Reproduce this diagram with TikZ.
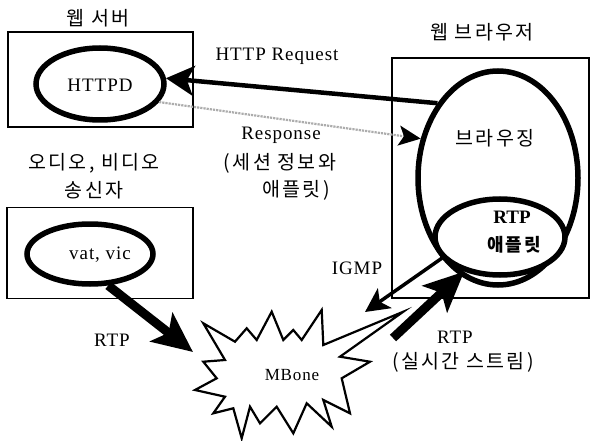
\documentclass[tikz,border=0pt]{standalone}
\usepackage{fontspec}
\setmainfont{Liberation Serif}
\newfontfamily\lat[LetterSpace=5]{Liberation Serif}
\newfontfamily\cjk[LetterSpace=12]{Noto Sans CJK KR}
\usetikzlibrary{shapes.geometric, arrows.meta}
\begin{document}
\begin{tikzpicture}[x=1pt,y=-1pt,
  box/.style={draw, line width=1.8pt, inner sep=0pt},
  oval/.style={draw, ellipse, line width=5.5pt, inner sep=0pt},
  en/.style={font=\lat\fontsize{19}{22}\selectfont, inner sep=0pt},
  enb/.style={font=\bfseries\fontsize{19}{22}\selectfont, inner sep=0pt},
  ko/.style={font=\cjk\fontsize{19.5}{22}\selectfont, inner sep=0pt},
  kob/.style={font=\cjk\bfseries\fontsize{18}{22}\selectfont, inner sep=0pt},
  fatarrow/.style={line width=9pt, -{Stealth[length=40pt,width=36pt,inset=9pt]}},
  reqarrow/.style={line width=4.5pt, -{Stealth[length=28pt,width=30pt,inset=7pt]}},
  igmparrow/.style={line width=3.5pt, -{Stealth[length=24pt,width=24pt,inset=6pt]}},
  resparrow/.style={draw=gray!65, line width=2.2pt, densely dotted, -{Stealth[length=22pt,width=20pt,inset=5pt,black]}},
  burst/.style={draw, fill=white, line width=2.2pt, line join=miter}
]
\useasboundingbox (0,0) rectangle (592,441);

% boxes
\node[box, minimum width=185pt, minimum height=95pt] (server) at (100.5,79.5) {};
\node[box, minimum width=186pt, minimum height=91pt] (sender) at (100,253) {};
\node[box, minimum width=197pt, minimum height=240pt] (browser) at (490.5,178) {};

% box titles
\node[ko] (tServer) at (98,18) {웹 서버};
\node[ko] (tBrowser) at (482,32) {웹 브라우저};
\node[ko] (tSender1) at (94,163) {오디오, 비디오};
\node[ko] (tSender2) at (94,190) {송신자};

% ellipses
\node[oval, minimum width=128pt, minimum height=72pt] (httpd) at (100,84) {};
\node[en] (httpdText) at (100,85) {HTTPD};
\node[oval, minimum width=160pt, minimum height=214pt] (browse) at (498,178) {};
\node[ko] (browseText) at (495,138) {브라우징};
\node[oval, fill=white, minimum width=130pt, minimum height=76pt] (rtp) at (500,237) {};
\node[enb] (rtpText1) at (512,217) {RTP};
\node[kob] (rtpText2) at (514,245) {애플릿};
\node[oval, minimum width=126pt, minimum height=60pt] (vat) at (90,254) {};
\node[en] (vatText) at (100,255) {vat, vic};

% MBone burst
\draw[burst] (203.3,323.3) -- (235,341.7) -- (246.7,328.3) -- (256.7,340) -- (271.7,311.7)
  -- (283.3,340) -- (293.3,330) -- (301.7,340) -- (321.7,310) -- (323.3,345)
  -- (403.3,311.7) -- (340,356.7) -- (370,361.7) -- (341.7,378.3) -- (350,413.3)
  -- (323.3,400) -- (331.7,426.7) -- (306.7,403.3) -- (293.3,433.3) -- (276.7,406.7)
  -- (260,423.3) -- (250,406.7) -- (241.7,438.3) -- (233.3,408.3) -- (213.3,413.3)
  -- (225,396.7) -- (195,390) -- (216.7,378.3) -- (203.3,361.7) -- (225,360) -- cycle;
\node[en, font=\lat\fontsize{17}{20}\selectfont] (mbone) at (292,375) {MBone};

% connector end points
\coordinate (leftTip) at (193,352);
\coordinate (igmpEnd) at (365,312);
\coordinate (rtpTail) at (393,338);

% connectors
\draw[reqarrow] (browse.129) -- (httpd.5);
\draw[resparrow] (httpd.-17) -- (browse.153);
\draw[fatarrow] (vat.-60) -- (leftTip);
\draw[igmparrow] (rtp.200) -- (igmpEnd);
\draw[fatarrow] (rtpTail) -- (rtp.224);

% labels
\node[en] (lReq) at (277,56) {HTTP Request};
\node[en] (lResp) at (281,135) {Response};
\node[ko] (lResp2) at (280,163) {(세션 정보와};
\node[ko] (lResp3) at (296,190) {애플릿)};
\node[en] (lIgmp) at (357,268) {IGMP};
\node[en] (lRtpL) at (112,340) {RTP};
\node[en] (lRtpR) at (455,337) {RTP};
\node[ko] (lRtpR2) at (463,362) {(실시간 스트림)};
\end{tikzpicture}
\end{document}
